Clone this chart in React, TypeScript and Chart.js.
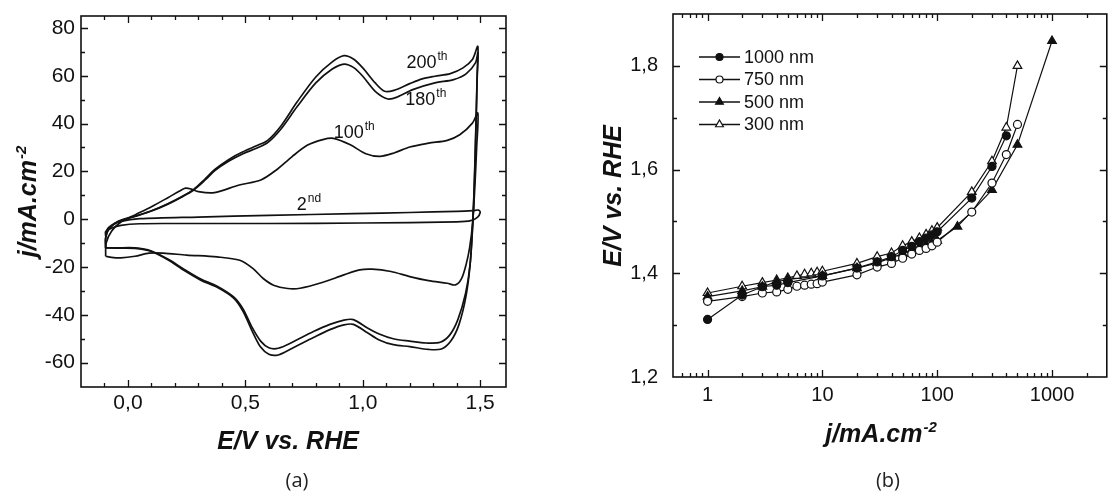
import React, { useEffect, useRef } from "react";
import { Chart, registerables } from "chart.js";

Chart.register(...registerables);

type Pt = [number, number];

// ---------- (a) cyclic voltammograms: [E / V vs. RHE, j / mA cm-2], one closed loop per cycle ----------
const cycle2nd: Pt[] = [
  [-0.095, -7], [-0.09, -4.5], [-0.07, -2.5], [-0.03, -0.9], [0.05, 0.2], [0.3, 0.9], [0.6, 1.6],
  [0.96, 2.3], [1.2, 2.8], [1.4, 3.3], [1.47, 3.6], [1.493, 3.8], [1.5, 2.8], [1.488, 0.8],
  [1.46, -0.6], [1.4, -1.1], [1.0, -1.6], [0.6, -1.8], [0.2, -1.8], [0.05, -1.9], [-0.03, -2.6],
  [-0.07, -3.8], [-0.095, -5.2], [-0.095, -7],
];

const cycle100th: Pt[] = [
  [-0.095, -15.5], [-0.093, -10], [-0.07, -5], [-0.03, -1.2], [0.03, 1.8], [0.1, 5.2], [0.17, 9],
  [0.22, 11.8], [0.245, 13], [0.27, 12.6], [0.3, 11.5], [0.368, 11.1], [0.474, 14.3], [0.566, 16.4],
  [0.632, 20.6], [0.698, 26.1], [0.765, 31], [0.83, 33.3], [0.875, 33.8], [0.947, 31.1], [1.013, 27.4],
  [1.073, 26.3], [1.133, 27.7], [1.2, 30.2], [1.28, 31.8], [1.36, 33], [1.413, 35.3], [1.467, 40.2],
  [1.49, 44.4],
  [1.485, 30], [1.478, 15], [1.468, -1.5], [1.455, -12], [1.44, -19], [1.42, -25], [1.395, -27.5],
  [1.36, -26.8], [1.28, -25.7], [1.2, -24], [1.12, -21.9], [1.04, -20.9], [0.987, -21.2], [0.92, -23.3],
  [0.827, -26.5], [0.733, -28.9], [0.68, -29], [0.62, -27.6], [0.576, -24.8], [0.533, -20.7],
  [0.476, -17.2], [0.38, -15.8], [0.25, -15], [0.15, -14.2], [0.09, -14.2], [0.03, -15.5],
  [-0.03, -16.2], [-0.07, -16], [-0.095, -15.5],
];

const cycle180th: Pt[] = [
  [-0.095, -12], [-0.095, -7.5], [-0.08, -3.8], [-0.04, -0.8], [0.04, 1.5], [0.1, 3.4], [0.17, 6.3],
  [0.23, 9.3], [0.28, 12.2], [0.33, 16.5], [0.37, 20.3], [0.43, 24.3], [0.49, 27.4], [0.55, 29.8],
  [0.595, 32], [0.65, 37.5], [0.72, 47], [0.8, 57], [0.87, 62.8], [0.92, 64.9], [0.96, 63.5],
  [1.0, 59.8], [1.053, 53.5], [1.107, 50.3], [1.147, 51.1], [1.213, 54.2], [1.307, 57], [1.387, 58.4],
  [1.44, 60.8], [1.48, 65.4], [1.49, 69.6],
  [1.487, 58], [1.482, 38], [1.476, 17], [1.469, -1], [1.457, -19], [1.438, -31], [1.405, -42],
  [1.37, -48.5], [1.33, -51.5], [1.27, -51.8], [1.2, -51], [1.13, -50], [1.07, -48], [1.02, -45.5],
  [0.96, -42], [0.92, -42.2], [0.86, -44], [0.79, -47], [0.7, -51.5], [0.64, -54], [0.6, -53.8],
  [0.565, -51], [0.53, -45.5], [0.49, -37.5], [0.45, -32.5], [0.38, -28], [0.31, -25], [0.24, -21],
  [0.17, -16.7], [0.1, -13.3], [0.03, -12], [-0.05, -12], [-0.095, -12],
];

const cycle200th: Pt[] = [
  [-0.095, -12], [-0.095, -8], [-0.08, -4], [-0.04, -1], [0.04, 1.5], [0.1, 3.5], [0.17, 6.5],
  [0.23, 9.5], [0.28, 12.5], [0.33, 17], [0.37, 20.8], [0.43, 25], [0.49, 28.2], [0.55, 30.8],
  [0.595, 33], [0.65, 38.8], [0.72, 49], [0.8, 59.5], [0.87, 65.8], [0.92, 68.4], [0.96, 67],
  [1.0, 63.3], [1.053, 57], [1.093, 53.5], [1.133, 53.9], [1.2, 56.7], [1.253, 58.7], [1.307, 59.8],
  [1.373, 60.9], [1.427, 63.3], [1.467, 66.8], [1.49, 72.3],
  [1.487, 60], [1.482, 40], [1.476, 18], [1.469, 0], [1.458, -18], [1.44, -32], [1.41, -44],
  [1.375, -51], [1.335, -54.3], [1.28, -54.5], [1.2, -53.3], [1.13, -52.5], [1.07, -50.5],
  [1.02, -47.5], [0.96, -44], [0.92, -44.2], [0.86, -46.2], [0.79, -49.5], [0.7, -54], [0.64, -56.8],
  [0.6, -56.5], [0.565, -53.5], [0.53, -47], [0.49, -38.5], [0.45, -33], [0.38, -28.5], [0.31, -25.5],
  [0.24, -21.5], [0.17, -17], [0.1, -13.5], [0.03, -12.2], [-0.05, -12.1], [-0.095, -12],
];

const cvCycles = [cycle2nd, cycle100th, cycle180th, cycle200th];

// cycle-number annotations (number, ordinal suffix, anchor in data units)
const cycleNumbers = ["200", "180", "100", "2"];
const cycleSuffixes = ["th", "th", "th", "nd"];
const cycleLabelE = [1.25, 1.245, 0.94, 0.74];
const cycleLabelJ = [66, 50.5, 36.7, 6.7];

const cvXTicks = [0, 0.5, 1.0, 1.5];
const cvXMinor = [-0.1, 0.1, 0.2, 0.3, 0.4, 0.6, 0.7, 0.8, 0.9, 1.1, 1.2, 1.3, 1.4];
const cvYTicks = [-60, -40, -20, 0, 20, 40, 60, 80];
const cvYMinor = [-50, -30, -10, 10, 30, 50, 70];

// ---------- (b) polarization curves: j / mA cm-2 against E / V vs. RHE ----------
const seriesNames = ["1000 nm", "750 nm", "500 nm", "300 nm"];

const j1000 = [1, 2, 3, 4, 5, 10, 20, 30, 40, 50, 60, 70, 80, 90, 100, 200, 300, 400];
const E1000 = [1.311, 1.358, 1.374, 1.377, 1.382, 1.395, 1.41, 1.422, 1.432, 1.444, 1.452, 1.461, 1.468,
  1.474, 1.48, 1.545, 1.606, 1.665];

const j750 = [1, 2, 3, 4, 5, 6, 7, 8, 9, 10, 20, 30, 40, 50, 60, 70, 80, 90, 100, 200, 300, 400, 500];
const E750 = [1.346, 1.355, 1.362, 1.364, 1.369, 1.375, 1.377, 1.379, 1.38, 1.383, 1.397, 1.412, 1.419,
  1.429, 1.437, 1.444, 1.448, 1.453, 1.46, 1.518, 1.574, 1.629, 1.687];

const j500 = [1, 2, 3, 4, 5, 10, 20, 30, 40, 50, 60, 70, 80, 90, 100, 150, 300, 500, 1000];
const E500 = [1.355, 1.366, 1.374, 1.384, 1.388, 1.395, 1.41, 1.42, 1.43, 1.438, 1.445, 1.45, 1.455,
  1.459, 1.463, 1.49, 1.561, 1.648, 1.848];

const j300 = [1, 2, 3, 4, 5, 6, 7, 8, 9, 10, 20, 30, 40, 50, 60, 70, 80, 90, 100, 200, 300, 400, 500];
const E300 = [1.362, 1.375, 1.382, 1.387, 1.391, 1.395, 1.398, 1.4, 1.402, 1.404, 1.419, 1.432, 1.439,
  1.453, 1.461, 1.468, 1.475, 1.482, 1.488, 1.557, 1.616, 1.681, 1.8];

const polJ = [j1000, j750, j500, j300];
const polE = [E1000, E750, E500, E300];

const polXTicks = [1, 10, 100, 1000];
const polYTicks = [1.2, 1.4, 1.6, 1.8];
const polYMinor = [1.3, 1.5, 1.7, 1.9];

// ---------- drawing helpers ----------
const INK = "#111";
const TICK_FONT = "'Liberation Sans', Arial, sans-serif";

// marker look per series: filled circle, open circle, filled triangle, open triangle
const markerStyle = ["circle", "circle", "triangle", "triangle"] as const;
const markerFill = [INK, "#fff", INK, "#fff"];
const markerRadius = [4, 4, 5, 5];

function logMinor(min: number, max: number): number[] {
  const out: number[] = [];
  for (let d = 0.1; d <= max; d *= 10) {
    for (let k = 2; k <= 9; k++) {
      const v = Math.round(d * k * 1000) / 1000;
      if (v > min && v < max) out.push(v);
    }
  }
  return out;
}

function frameTicksPlugin(xMajor: number[], xMinor: number[], yMajor: number[], yMinor: number[]) {
  return {
    id: "frameTicks",
    afterDatasetsDraw(chart: any) {
      const { ctx, chartArea: a } = chart;
      const xs = chart.scales.x;
      const ys = chart.scales.y;
      ctx.save();
      ctx.strokeStyle = INK;
      ctx.lineWidth = 1.6;
      ctx.strokeRect(a.left, a.top, a.right - a.left, a.bottom - a.top);
      ctx.lineWidth = 1.3;
      ctx.beginPath();
      const xSets: [number[], number][] = [[xMajor, 7], [xMinor, 4]];
      for (const [vals, len] of xSets) {
        for (const v of vals) {
          const px = Math.round(xs.getPixelForValue(v)) + 0.5;
          if (px < a.left + 1 || px > a.right - 1) continue;
          ctx.moveTo(px, a.bottom);
          ctx.lineTo(px, a.bottom - len);
          ctx.moveTo(px, a.top);
          ctx.lineTo(px, a.top + len);
        }
      }
      const ySets: [number[], number][] = [[yMajor, 7], [yMinor, 4]];
      for (const [vals, len] of ySets) {
        for (const v of vals) {
          const py = Math.round(ys.getPixelForValue(v)) + 0.5;
          if (py < a.top + 1 || py > a.bottom - 1) continue;
          ctx.moveTo(a.left, py);
          ctx.lineTo(a.left + len, py);
          ctx.moveTo(a.right, py);
          ctx.lineTo(a.right - len, py);
        }
      }
      ctx.stroke();
      ctx.restore();
    },
  };
}

// text followed by a raised suffix; (x, y) is the centre of the run, y at mid cap height
function drawRaised(
  ctx: CanvasRenderingContext2D,
  main: string,
  sup: string,
  x: number,
  y: number,
  size: number,
  supSize: number,
  style: string,
  anchorMainOnly = false,
) {
  const mainFont = `${style} ${size}px ${TICK_FONT}`;
  const supFont = `${style} ${supSize}px ${TICK_FONT}`;
  ctx.font = mainFont;
  const w1 = ctx.measureText(main).width;
  ctx.font = supFont;
  const w2 = ctx.measureText(sup).width;
  const start = anchorMainOnly ? x - w1 / 2 : x - (w1 + w2 + 1) / 2;
  const base = y + size * 0.36;
  ctx.textAlign = "left";
  ctx.textBaseline = "alphabetic";
  ctx.fillStyle = INK;
  ctx.font = mainFont;
  ctx.fillText(main, start, base);
  ctx.font = supFont;
  ctx.fillText(sup, start + w1 + 1, base - size * 0.42);
}

function drawTitle(ctx: CanvasRenderingContext2D, main: string, sup: string, x: number, y: number, rotated: boolean) {
  ctx.save();
  ctx.translate(x, y);
  if (rotated) ctx.rotate(-Math.PI / 2);
  drawRaised(ctx, main, sup, 0, 0, 25, 15, "italic bold");
  ctx.restore();
}

function drawMarker(ctx: CanvasRenderingContext2D, style: string, x: number, y: number, r: number, fill: string) {
  ctx.beginPath();
  if (style === "circle") {
    ctx.arc(x, y, r, 0, Math.PI * 2);
  } else {
    for (let i = 0; i < 3; i++) {
      const ang = (i * 2 * Math.PI) / 3;
      const px = x + Math.sin(ang) * r;
      const py = y - Math.cos(ang) * r;
      if (i === 0) ctx.moveTo(px, py);
      else ctx.lineTo(px, py);
    }
    ctx.closePath();
  }
  ctx.fillStyle = fill;
  ctx.fill();
  ctx.lineWidth = 1.2;
  ctx.strokeStyle = INK;
  ctx.stroke();
}

const cvDecorPlugin = {
  id: "cvDecor",
  afterDraw(chart: any) {
    const { ctx, chartArea: a } = chart;
    const xs = chart.scales.x;
    const ys = chart.scales.y;
    ctx.save();
    cycleNumbers.forEach((num, i) => {
      const px = xs.getPixelForValue(cycleLabelE[i]);
      const py = ys.getPixelForValue(cycleLabelJ[i]);
      drawRaised(ctx, num, cycleSuffixes[i], px, py, 18, 12, "", true);
    });
    drawTitle(ctx, "j/mA.cm", "-2", 27, (a.top + a.bottom) / 2, true);
    drawTitle(ctx, "E/V vs. RHE", "", (a.left + a.right) / 2 - 5, a.bottom + 53, false);
    ctx.restore();
  },
};

const polDecorPlugin = {
  id: "polDecor",
  afterDraw(chart: any) {
    const { ctx, chartArea: a } = chart;
    ctx.save();
    // legend: short line with the series marker in its middle, then the name
    seriesNames.forEach((name, i) => {
      const y = a.top + 43 + i * 22.5;
      const x0 = a.left + 26;
      ctx.strokeStyle = INK;
      ctx.lineWidth = 1.3;
      ctx.beginPath();
      ctx.moveTo(x0, y);
      ctx.lineTo(x0 + 41, y);
      ctx.stroke();
      drawMarker(ctx, markerStyle[i], x0 + 20.5, y, markerRadius[i] - 0.5, markerFill[i]);
      ctx.fillStyle = INK;
      ctx.font = `18px ${TICK_FONT}`;
      ctx.textAlign = "left";
      ctx.textBaseline = "middle";
      ctx.fillText(name, x0 + 45, y + 1);
    });
    drawTitle(ctx, "E/V vs. RHE", "", 56, (a.top + a.bottom) / 2, true);
    drawTitle(ctx, "j/mA.cm", "-2", a.left + 208, a.bottom + 56, false);
    ctx.restore();
  },
};

// fixed axis boxes so the plot frame lands where it should; label overhang is ignored
const fixHeight = (h: number) => (s: any) => {
  s.height = h;
  s.paddingLeft = 0;
  s.paddingRight = 0;
};
const fixWidth = (w: number) => (s: any) => {
  s.width = w;
  s.paddingTop = 0;
  s.paddingBottom = 0;
};

const hiddenGrid = { display: false, drawTicks: false };

function cvConfig(): any {
  return {
    type: "scatter",
    data: {
      datasets: cvCycles.map((cyc) => ({
        data: cyc.map(([E, j]) => ({ x: E, y: j })),
        showLine: true,
        borderColor: INK,
        borderWidth: 1.7,
        pointRadius: 0,
        pointHoverRadius: 0,
        tension: 0.3,
        fill: false,
      })),
    },
    options: {
      animation: false,
      responsive: false,
      events: [],
      layout: { padding: { top: 16, right: 50, left: 0, bottom: 0 } },
      plugins: { legend: { display: false }, tooltip: { enabled: false } },
      scales: {
        x: {
          type: "linear",
          min: -0.2,
          max: 1.61,
          afterFit: fixHeight(107),
          afterBuildTicks: (s: any) => { s.ticks = cvXTicks.map((v) => ({ value: v })); },
          grid: hiddenGrid,
          border: { display: false },
          ticks: {
            callback: (v: number) => v.toFixed(1).replace(".", ","),
            font: { family: TICK_FONT, size: 21 },
            color: INK,
            padding: 4,
            maxRotation: 0,
            autoSkip: false,
          },
        },
        y: {
          type: "linear",
          min: -70.2,
          max: 85,
          afterFit: fixWidth(81),
          afterBuildTicks: (s: any) => { s.ticks = cvYTicks.map((v) => ({ value: v })); },
          grid: hiddenGrid,
          border: { display: false },
          ticks: {
            callback: (v: number) => String(v),
            font: { family: TICK_FONT, size: 21 },
            color: INK,
            padding: 6,
            autoSkip: false,
          },
        },
      },
    },
    plugins: [frameTicksPlugin(cvXTicks, cvXMinor, cvYTicks, cvYMinor), cvDecorPlugin],
  };
}

function polConfig(): any {
  return {
    type: "scatter",
    data: {
      datasets: seriesNames.map((name, i) => ({
        label: name,
        data: polJ[i].map((j, k) => ({ x: j, y: polE[i][k] })),
        showLine: true,
        borderColor: INK,
        borderWidth: 1.2,
        tension: 0,
        pointStyle: markerStyle[i],
        pointRadius: markerRadius[i],
        pointHoverRadius: markerRadius[i],
        pointBackgroundColor: markerFill[i],
        pointBorderColor: INK,
        pointBorderWidth: 1.2,
        fill: false,
      })),
    },
    options: {
      animation: false,
      responsive: false,
      events: [],
      layout: { padding: { top: 14, right: 0, left: 0, bottom: 0 } },
      plugins: { legend: { display: false }, tooltip: { enabled: false } },
      scales: {
        x: {
          type: "logarithmic",
          min: 0.5,
          max: 3000,
          afterFit: fixHeight(117),
          afterBuildTicks: (s: any) => { s.ticks = polXTicks.map((v) => ({ value: v })); },
          grid: hiddenGrid,
          border: { display: false },
          ticks: {
            callback: (v: number) => String(v),
            font: { family: TICK_FONT, size: 20 },
            color: INK,
            padding: 6,
            maxRotation: 0,
            autoSkip: false,
          },
        },
        y: {
          type: "linear",
          min: 1.2,
          max: 1.9,
          afterFit: fixWidth(117),
          afterBuildTicks: (s: any) => { s.ticks = polYTicks.map((v) => ({ value: v })); },
          grid: hiddenGrid,
          border: { display: false },
          ticks: {
            callback: (v: number) => v.toFixed(1).replace(".", ","),
            font: { family: TICK_FONT, size: 20 },
            color: INK,
            padding: 15,
            autoSkip: false,
          },
        },
      },
    },
    plugins: [frameTicksPlugin(polXTicks, logMinor(0.5, 3000), polYTicks, polYMinor), polDecorPlugin],
  };
}

const captionStyle = (cx: number): React.CSSProperties => ({
  position: "absolute",
  left: cx - 40,
  width: 80,
  top: 467,
  lineHeight: "26px",
  textAlign: "center",
  fontFamily: "'Open Sans', 'Noto Sans', sans-serif",
  fontSize: 20,
  color: "#222",
});

export default function App() {
  const leftRef = useRef<HTMLCanvasElement>(null);
  const rightRef = useRef<HTMLCanvasElement>(null);

  useEffect(() => {
    const cv = new Chart(leftRef.current as HTMLCanvasElement, cvConfig());
    const pol = new Chart(rightRef.current as HTMLCanvasElement, polConfig());
    return () => {
      cv.destroy();
      pol.destroy();
    };
  }, []);

  return (
    <div
      style={{
        position: "fixed",
        left: 0,
        top: 0,
        width: 1113,
        height: 494,
        background: "#fff",
        overflow: "hidden",
      }}
    >
      <canvas ref={leftRef} width={556} height={494} style={{ position: "absolute", left: 0, top: 0 }} />
      <canvas ref={rightRef} width={557} height={494} style={{ position: "absolute", left: 556, top: 0 }} />
      <div style={captionStyle(297)}>(a)</div>
      <div style={captionStyle(888)}>(b)</div>
    </div>
  );
}
